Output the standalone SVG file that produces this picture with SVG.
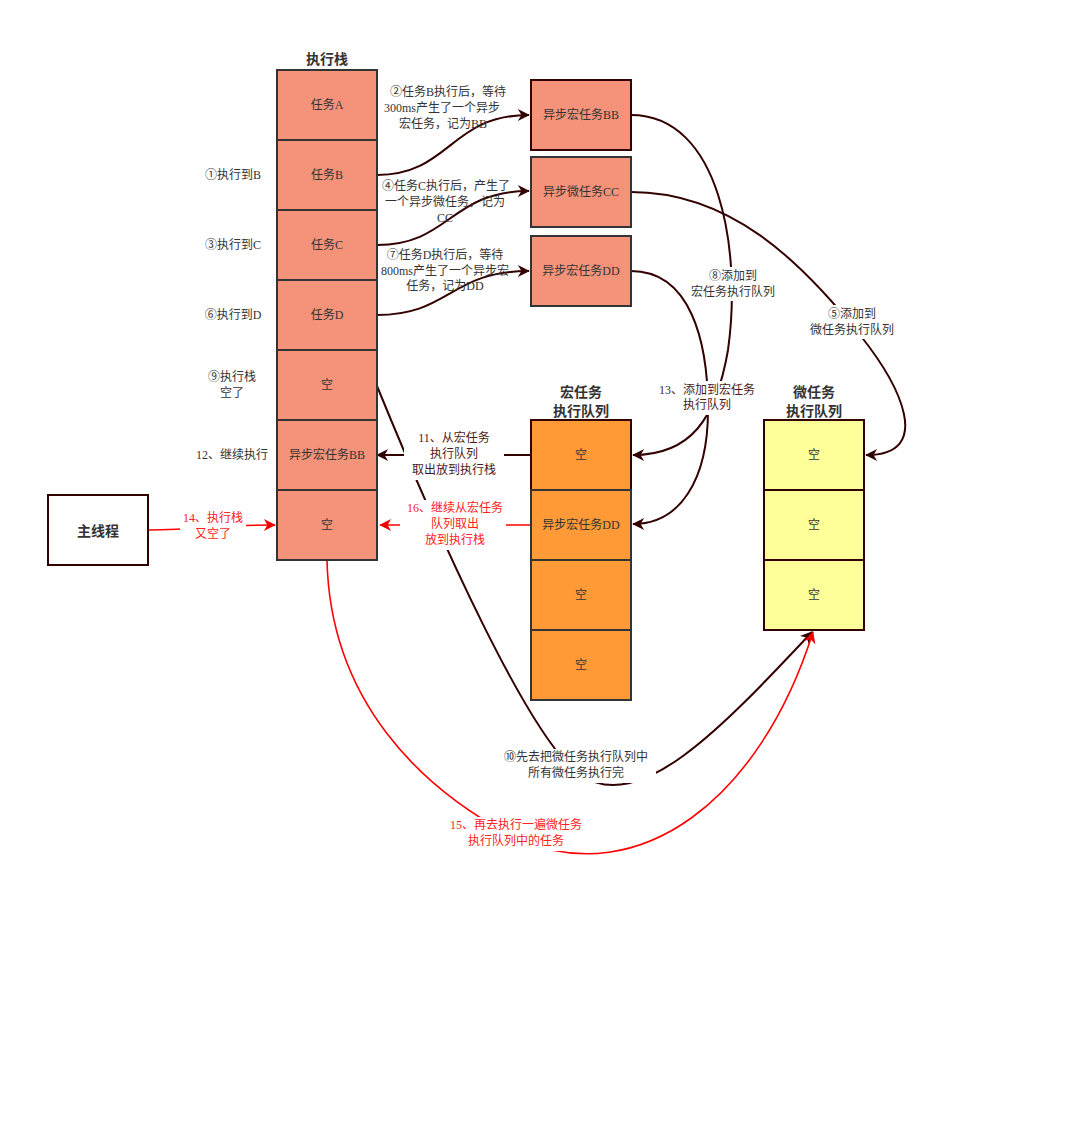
<svg xmlns="http://www.w3.org/2000/svg" width="1066" height="1133" viewBox="0 0 1066 1133">
<style>
text{font-family:"Liberation Serif","Noto Sans CJK SC",serif;font-size:12px;fill:#333;text-anchor:middle;dominant-baseline:central}
.t{font-family:"Noto Sans CJK SC","Liberation Sans",sans-serif;font-weight:bold;font-size:14px;fill:#333}
.st{fill:#F5937A;stroke:#333;stroke-width:2}
.mq{fill:#FF9A36;stroke:#333;stroke-width:2}
.mi{fill:#FFFF99;stroke:#330000;stroke-width:2}
.c{fill:none;stroke:#330000;stroke-width:2}
.r{fill:none;stroke:#FF0000;stroke-width:1.6}
.rt{fill:#FF2222}
.dk{fill:#4a1a1a}
.bg{fill:#fff}
</style>
<defs>
<marker id="a" viewBox="0 0 10 10" refX="9" refY="5" markerWidth="8" markerHeight="8" markerUnits="userSpaceOnUse" orient="auto" overflow="visible"><path d="M0,0 L10,5 L0,10 L3,5 z" fill="#330000" transform="scale(1.5) translate(-3.3,-1.7)"/></marker>
<marker id="ar" viewBox="0 0 10 10" refX="9" refY="5" markerWidth="8" markerHeight="8" markerUnits="userSpaceOnUse" orient="auto" overflow="visible"><path d="M0,0 L10,5 L0,10 L3,5 z" fill="#EE0000" transform="scale(1.5) translate(-3.3,-1.7)"/></marker>
</defs>
<rect width="1066" height="1133" fill="#fff"/>

<g id="connectors">
<path class="c" d="M377,175 C450,175 450,115 529,115" marker-end="url(#a)"/>
<path class="c" d="M377,245 C450,245 450,191 529,191" marker-end="url(#a)"/>
<path class="c" d="M377,315 C450,315 450,271 529,271" marker-end="url(#a)"/>
<path class="c" d="M631,115 C720,115 742,250 728,350 C716,420 690,455 633,455" marker-end="url(#a)"/>
<path class="c" d="M631,271 C690,271 708,340 708,410 C708,480 680,524 633,524" marker-end="url(#a)"/>
<path class="c" d="M631,192 C730,192 800,260 860,335 C900,385 935,455 866,455" marker-end="url(#a)"/>
<path class="c" d="M377,386 C440,540 530,740 580,775 C640,815 720,730 812,632" marker-end="url(#a)"/>
<path class="c" d="M531,455 L377,455" marker-end="url(#a)"/>
<path class="r" d="M327,560 C330,700 420,790 520,840 C640,890 760,800 813,632" marker-end="url(#ar)"/>
<path class="r" d="M531,525 L380,525" marker-end="url(#ar)"/>
<path class="r" d="M148,530 C200,530 220,525 275,525" marker-end="url(#ar)"/>
</g>

<g id="labels">
<text x="448" y="92">②任务B执行后，等待</text>
<text x="442" y="108">300ms产生了一个异步</text>
<text x="443" y="124">宏任务，记为BB</text>
<text x="446" y="186">④任务C执行后，产生了</text>
<text x="445" y="202">一个异步微任务，记为</text>
<text x="445" y="218">CC</text>
<text x="445" y="255">⑦任务D执行后，等待</text>
<text x="445" y="271">800ms产生了一个异步宏</text>
<text x="445" y="286">任务，记为DD</text>
<text x="233" y="175">①执行到B</text>
<text x="233" y="245">③执行到C</text>
<text x="233" y="315">⑥执行到D</text>
<text x="232" y="377">⑨执行栈</text>
<text x="232" y="393">空了</text>
<text x="232" y="455">12、继续执行</text>
<rect class="bg" x="688" y="267" width="90" height="34"/>
<text x="733" y="276">⑧添加到</text>
<text x="733" y="292">宏任务执行队列</text>
<rect class="bg" x="808" y="305" width="90" height="34"/>
<text x="852" y="314">⑤添加到</text>
<text x="852" y="330">微任务执行队列</text>
<rect class="bg" x="656" y="381" width="104" height="34"/>
<text class="dk" x="707" y="390">13、添加到宏任务</text>
<text class="dk" x="707" y="405">执行队列</text>
<rect class="bg" x="404" y="430" width="100" height="50"/>
<text class="dk" x="454" y="438">11、从宏任务</text>
<text class="dk" x="454" y="454">执行队列</text>
<text class="dk" x="454" y="470">取出放到执行栈</text>
<rect class="bg" x="400" y="500" width="106" height="50"/>
<text class="rt" x="455" y="508">16、继续从宏任务</text>
<text class="rt" x="455" y="524">队列取出</text>
<text class="rt" x="455" y="540">放到执行栈</text>
<rect class="bg" x="180" y="510" width="66" height="34"/>
<text class="rt" x="213" y="518">14、执行栈</text>
<text class="rt" x="213" y="534">又空了</text>
<rect class="bg" x="496" y="749" width="160" height="34"/>
<text x="576" y="757">⑩先去把微任务执行队列中</text>
<text x="576" y="773">所有微任务执行完</text>
<rect class="bg" x="442" y="817" width="150" height="34"/>
<text class="rt" x="516" y="825">15、再去执行一遍微任务</text>
<text class="rt" x="516" y="841">执行队列中的任务</text>
</g>

<g id="stack">
<text class="t" x="327" y="58">执行栈</text>
<g id="stackA"><rect class="st" x="277" y="70" width="100" height="70"/><text x="327" y="105">任务A</text></g>
<g id="stackB"><rect class="st" x="277" y="140" width="100" height="70"/><text x="327" y="175">任务B</text></g>
<g id="stackC"><rect class="st" x="277" y="210" width="100" height="70"/><text x="327" y="245">任务C</text></g>
<g id="stackD"><rect class="st" x="277" y="280" width="100" height="70"/><text x="327" y="315">任务D</text></g>
<g id="stackE1"><rect class="st" x="277" y="350" width="100" height="70"/><text x="327" y="385">空</text></g>
<g id="stackBB"><rect class="st" x="277" y="420" width="100" height="70"/><text x="327" y="455">异步宏任务BB</text></g>
<g id="stackE2"><rect class="st" x="277" y="490" width="100" height="70"/><text x="327" y="525">空</text></g>
</g>

<g id="asyncBB"><rect class="st" x="531" y="80" width="100" height="70" style="stroke:#330000"/><text x="581" y="115">异步宏任务BB</text></g>
<g id="asyncCC"><rect class="st" x="531" y="157" width="100" height="70"/><text x="581" y="192">异步微任务CC</text></g>
<g id="asyncDD"><rect class="st" x="531" y="236" width="100" height="70"/><text x="581" y="271">异步宏任务DD</text></g>

<g id="macroQueue">
<text class="t" x="581" y="391">宏任务</text>
<text class="t" x="581" y="410">执行队列</text>
<g id="mq1"><rect class="mq" x="531" y="420" width="100" height="70" style="stroke:#330000"/><text x="581" y="455">空</text></g>
<g id="mq2"><rect class="mq" x="531" y="490" width="100" height="70"/><text x="581" y="525">异步宏任务DD</text></g>
<g id="mq3"><rect class="mq" x="531" y="560" width="100" height="70"/><text x="581" y="595">空</text></g>
<g id="mq4"><rect class="mq" x="531" y="630" width="100" height="70"/><text x="581" y="665">空</text></g>
</g>

<g id="microQueue">
<text class="t" x="814" y="391">微任务</text>
<text class="t" x="814" y="410">执行队列</text>
<g id="mi1"><rect class="mi" x="764" y="420" width="100" height="70"/><text x="814" y="455">空</text></g>
<g id="mi2"><rect class="mi" x="764" y="490" width="100" height="70"/><text x="814" y="525">空</text></g>
<g id="mi3"><rect class="mi" x="764" y="560" width="100" height="70"/><text x="814" y="595">空</text></g>
</g>

<g id="mainThread"><rect x="48" y="495" width="100" height="70" fill="#fff" stroke="#330000" stroke-width="2"/><text class="t" x="98" y="530">主线程</text></g>
</svg>
